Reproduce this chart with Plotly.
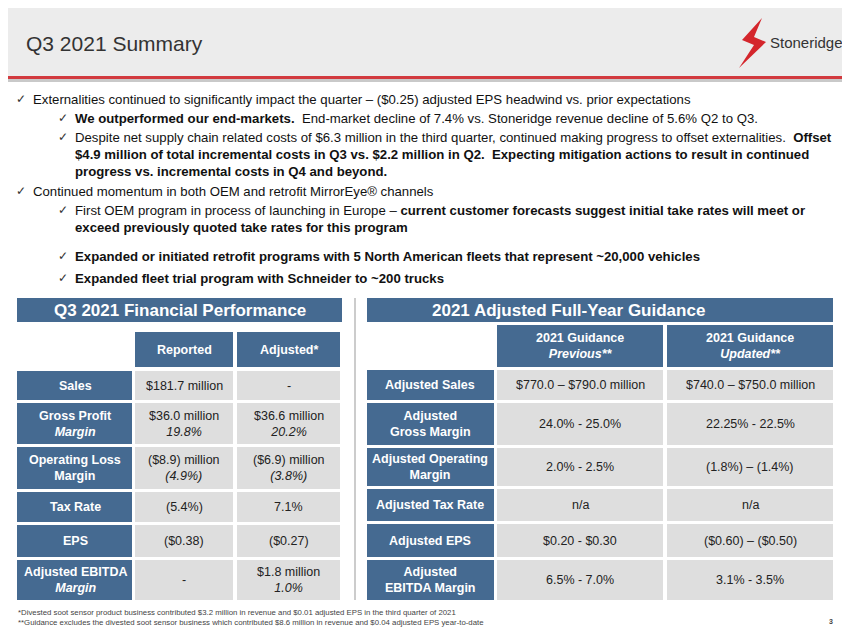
import plotly.graph_objects as go

FONT = "Liberation Sans, Arial, sans-serif"
BLUE = "#456a91"
CELL = "#dedede"

title = "Q3 2021 Summary"

bullets = [
    (0, "Externalities continued to significantly impact the quarter – ($0.25) adjusted EPS headwind vs. prior expectations"),
    (1, "<b>We outperformed our end-markets.</b>  End-market decline of 7.4% vs. Stoneridge revenue decline of 5.6% Q2 to Q3."),
    (1, "Despite net supply chain related costs of $6.3 million in the third quarter, continued making progress to offset externalities.  <b>Offset</b><br><b>$4.9 million of total incremental costs in Q3 vs. $2.2 million in Q2.  Expecting mitigation actions to result in continued</b><br><b>progress vs. incremental costs in Q4 and beyond.</b>"),
    (0, "Continued momentum in both OEM and retrofit MirrorEye® channels"),
    (1, "First OEM program in process of launching in Europe – <b>current customer forecasts suggest initial take rates will meet or</b><br><b>exceed previously quoted take rates for this program</b>"),
    (1, "<b>Expanded or initiated retrofit programs with 5 North American fleets that represent ~20,000 vehicles</b>"),
    (1, "<b>Expanded fleet trial program with Schneider to ~200 trucks</b>"),
]
bullet_y = [98, 117, 136, 190, 209, 255, 277]

left_title = "Q3 2021 Financial Performance"
left_cols = ["Reported", "Adjusted*"]
left_rows = ["Sales", "Gross Profit<br><i>Margin</i>", "Operating Loss<br>Margin", "Tax Rate", "EPS",
             "Adjusted EBITDA<br><i>Margin</i>"]
left_reported = ["$181.7 million", "$36.0 million<br><i>19.8%</i>", "($8.9) million<br><i>(4.9%)</i>",
                 "(5.4%)", "($0.38)", "-"]
left_adjusted = ["-", "$36.6 million<br><i>20.2%</i>", "($6.9) million<br><i>(3.8%)</i>",
                 "7.1%", "($0.27)", "$1.8 million<br><i>1.0%</i>"]
left_row_y = [(371, 400), (403, 444), (447, 489), (492, 522), (525, 557), (560, 600)]

right_title = "2021 Adjusted Full-Year Guidance"
right_cols = ["2021 Guidance<br><i>Previous**</i>", "2021 Guidance<br><i>Updated**</i>"]
right_rows = ["Adjusted Sales", "Adjusted<br>Gross Margin", "Adjusted Operating<br>Margin",
              "Adjusted Tax Rate", "Adjusted EPS", "Adjusted<br>EBITDA Margin"]
right_prev = ["$770.0 – $790.0 million", "24.0% - 25.0%", "2.0% - 2.5%", "n/a", "$0.20 - $0.30", "6.5% - 7.0%"]
right_upd = ["$740.0 – $750.0 million", "22.25% - 22.5%", "(1.8%) – (1.4%)", "n/a", "($0.60) – ($0.50)", "3.1% - 3.5%"]
right_row_y = [(370, 400), (403, 445), (448, 486), (489, 521), (524, 557), (560, 600)]

footnotes = [
    "*Divested soot sensor product business contributed $3.2 million in revenue and $0.01 adjusted EPS in the third quarter of 2021",
    "**Guidance excludes the divested soot sensor business which contributed $8.6 million in revenue and $0.04 adjusted EPS year-to-date",
]

fig = go.Figure()
shapes = []
ann = []


def rect(x0, y0, x1, y1, color):
    shapes.append(dict(type="rect", x0=x0, y0=y0, x1=x1, y1=y1, fillcolor=color,
                       line=dict(width=0), layer="below"))


def text(x, y, t, size=12.5, color="#222", bold=False, anchor="center", yanchor="middle"):
    if bold:
        t = "<b>" + t + "</b>"
    ann.append(dict(x=x, y=y, text=t, showarrow=False, xanchor=anchor, yanchor=yanchor,
                    font=dict(size=size, color=color, family=FONT), align=anchor))


# header background
rect(0, 0, 858, 76, "#ececec")
rect(0, 76, 858, 79, "#d23a3f")
rect(0, 79, 858, 82, "#c9c9c9")
text(24, 43, title, size=21, color="#333", anchor="left")
# logo
shapes.append(dict(type="path", path="M 762 18 L 742 40 L 754 45 L 739 68 L 766 42 L 754 37 Z",
                   fillcolor="#d4262c", line=dict(width=0)))
text(768, 42, "Stoneridge", size=15, color="#333", anchor="left")

# bullets
for (lvl, b), y in zip(bullets, bullet_y):
    x = 14 if lvl == 0 else 56
    text(x, y - 8, "✓", size=12, color="#333", anchor="left", yanchor="top")
    ann.append(dict(x=x + 17, y=y - 8, text=b, showarrow=False, xanchor="left", yanchor="top", align="left",
                    font=dict(size=13.2, color="#111", family=FONT)))

# left table
rect(17, 298, 342, 322, BLUE)
text(180, 310, left_title, size=17, color="white", bold=True)
lcols = [(135, 233), (237, 340)]
for i, c in enumerate(left_cols):
    x0, x1 = lcols[i]
    rect(x0, 332, x1, 367, BLUE)
    text((x0 + x1) / 2, 350, c, color="white", bold=True)
for i, (y0, y1) in enumerate(left_row_y):
    rect(17, y0, 132, y1, BLUE)
    text(75, (y0 + y1) / 2, left_rows[i], color="white", bold=True)
    for (x0, x1), v in zip(lcols, [left_reported[i], left_adjusted[i]]):
        rect(x0, y0, x1, y1, CELL)
        text((x0 + x1) / 2, (y0 + y1) / 2, v)

shapes.append(dict(type="line", x0=355, x1=355, y0=298, y1=600, line=dict(color="#999", width=1)))

# right table
rect(367, 298, 833, 322, BLUE)
text(568, 310, right_title, size=17, color="white", bold=True)
rcols = [(497, 663), (667, 833)]
for i, c in enumerate(right_cols):
    x0, x1 = rcols[i]
    rect(x0, 325, x1, 367, BLUE)
    text((x0 + x1) / 2, 346, "<b>" + c + "</b>", color="white")
for i, (y0, y1) in enumerate(right_row_y):
    rect(367, y0, 494, y1, BLUE)
    text(430, (y0 + y1) / 2, right_rows[i], color="white", bold=True)
    for (x0, x1), v in zip(rcols, [right_prev[i], right_upd[i]]):
        rect(x0, y0, x1, y1, CELL)
        text((x0 + x1) / 2, (y0 + y1) / 2, v)

text(16, 612, footnotes[0], size=7.8, color="#444", anchor="left")
text(16, 622, footnotes[1], size=7.8, color="#444", anchor="left")
text(835, 621, "<b>3</b>", size=7, color="#444", anchor="right")

# page is shown with an 8px body margin, so shift the view to compensate
fig.update_layout(
    width=850, height=638, margin=dict(l=0, r=0, t=0, b=0),
    plot_bgcolor="white", paper_bgcolor="white", shapes=shapes, annotations=ann,
    xaxis=dict(range=[8, 858], visible=False, fixedrange=True),
    yaxis=dict(range=[646, 8], visible=False, fixedrange=True),
    showlegend=False,
)
fig.write_html("out.html", config=dict(displayModeBar=False))
